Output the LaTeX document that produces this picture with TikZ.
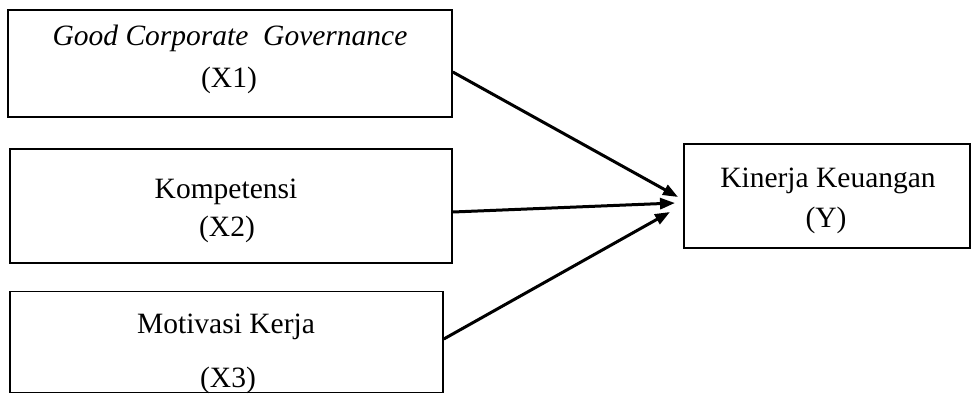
\documentclass[tikz,border=0pt]{standalone}
\usepackage{fontspec}
\setmainfont{Liberation Serif}
\usetikzlibrary{arrows.meta}

\begin{document}
\begin{tikzpicture}[x=1pt,y=-1pt,
  box/.style={draw,line width=1.6pt,inner sep=0pt},
  txt/.style={anchor=base,inner sep=0pt,font=\fontsize{29.5}{35}\selectfont},
  link/.style={line width=3pt,-{Triangle[length=15pt,width=11pt]}}]
\useasboundingbox (0,0) rectangle (973,394);
% variable boxes
\node[box,minimum width=444,minimum height=107] (gcg) at (230,63.5) {};
\node[box,minimum width=442,minimum height=114] (komp) at (231,206) {};
\node[box,minimum width=433,minimum height=101] (motiv) at (226.5,342) {};
\node[box,minimum width=286,minimum height=104] (kinerja) at (827,196) {};
% labels
\node[txt] (gcgA) at (230,45) {\itshape Good Corporate\ \ Governance};
\node[txt] (gcgB) at (229,87) {(X1)};
\node[txt] (kompA) at (226,198) {Kompetensi};
\node[txt] (kompB) at (227,236) {(X2)};
\node[txt] (motivA) at (226,333) {Motivasi Kerja};
\node[txt] (motivB) at (228,387) {(X3)};
\node[txt] (kinerjaA) at (828,187) {Kinerja Keuangan};
\node[txt] (kinerjaB) at (826,227) {(Y)};
% arrow tips
\coordinate (tipA) at (678,197);
\coordinate (tipB) at (675,203);
\coordinate (tipC) at (670,212);
\draw[link] ([yshift=-8.5pt]gcg.east) -- (tipA);
\draw[link] ([yshift=-6pt]komp.east) -- (tipB);
\draw[link] ([yshift=3pt]motiv.east) -- (tipC);
\end{tikzpicture}
\end{document}
